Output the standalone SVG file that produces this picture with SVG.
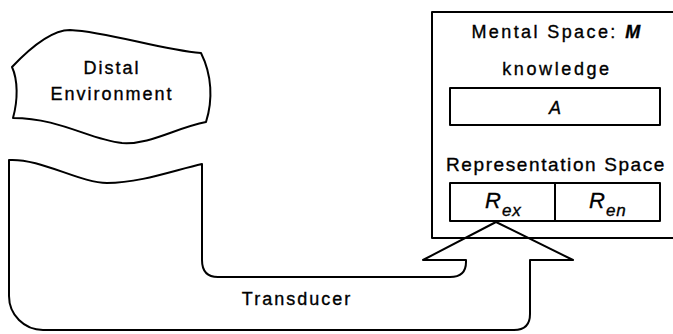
<svg xmlns="http://www.w3.org/2000/svg" width="673" height="334" viewBox="0 0 673 334">
  <style>
    .ln { fill: none; stroke: #000; stroke-width: 2; stroke-linejoin: round; }
    .lbl { font-family: "Liberation Sans", Arial, sans-serif; font-size: 18px; fill: #000; stroke: #000; stroke-width: 0.35; letter-spacing: 2px; }
    .it { font-style: italic; }
  </style>
  <rect width="673" height="334" fill="#fff"/>

  <g id="distal-environment">
    <path class="ln" d="M 12,67 C 30,48 52,30 70,30 C 110,32 160,50 201,53 C 212,75 213,100 206,122 C 175,128 150,145 122,143 C 90,140 60,118 13,118 C 18,100 18,80 12,67 Z"/>
    <text class="lbl" x="112" y="74" text-anchor="middle">Distal</text>
    <text class="lbl" x="112" y="100" text-anchor="middle">Environment</text>
  </g>

  <g id="connectors">
    <g id="transducer">
      <path class="ln" d="M 9,160 C 40,158 80,183 107,183 C 140,183 175,170 202,164 L 202,260 Q 202,277 218,277 L 450,277 Q 466,277 466,262 L 466,260 L 423,260 L 496,222 L 573,260 L 530,260 L 530,314 Q 530,330 514,330 L 43,330 A 34 34 0 0 1 9,296 Z"/>
      <text class="lbl" x="297" y="305" text-anchor="middle">Transducer</text>
    </g>
  </g>

  <g id="mental-space">
    <rect class="ln" x="432" y="12" width="260" height="226"/>
    <text class="lbl" x="557" y="38" text-anchor="middle" style="letter-spacing:2.4px">Mental Space: <tspan class="it" font-weight="bold">M</tspan></text>
    <text class="lbl" x="557" y="75" text-anchor="middle" style="letter-spacing:2.6px">knowledge</text>
  </g>

  <g id="knowledge-A">
    <rect class="ln" x="450" y="88" width="210" height="37"/>
    <text class="lbl it" x="556" y="114" text-anchor="middle">A</text>
  </g>

  <g id="representation-space">
    <text class="lbl" x="556" y="171" text-anchor="middle" style="font-size:19px;letter-spacing:1.6px">Representation Space</text>
    <rect class="ln" x="450" y="183" width="210" height="38"/>
    <line class="ln" x1="555" y1="183" x2="555" y2="221"/>
    <text class="lbl it" x="485" y="208" style="font-size:22px;letter-spacing:1px">R<tspan font-size="17" dy="8">ex</tspan></text>
    <text class="lbl it" x="589" y="208" style="font-size:22px;letter-spacing:1px">R<tspan font-size="17" dy="8">en</tspan></text>
  </g>
</svg>
